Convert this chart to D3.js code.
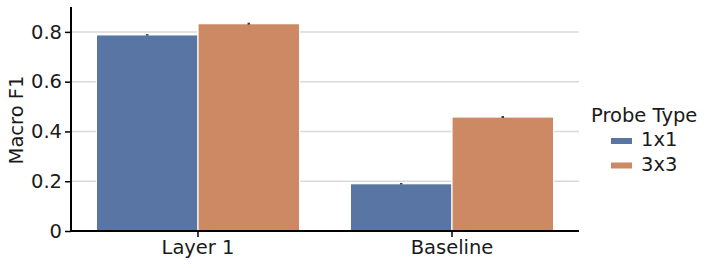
<!DOCTYPE html>
<html>
<head>
<meta charset="utf-8">
<script src="https://cdn.jsdelivr.net/npm/d3@7"></script>
<style>
  body { margin: 0; background: #fff; }
  svg text { font-family: "DejaVu Sans", sans-serif; fill: #1a1a1a; }
</style>
</head>
<body>
<svg id="chart" width="710" height="268"></svg>
<script>
// data
var categories = ["Layer 1", "Baseline"];
var probeTypes = ["1x1", "3x3"];
var means1x1   = [0.788, 0.190];
var means3x3   = [0.833, 0.458];
var err1x1     = [0.003, 0.003];
var err3x3     = [0.004, 0.004];
var yTicks     = [0, 0.2, 0.4, 0.6, 0.8];
var colors     = ["#5975a4", "#cc8963"];

var fontSize = "19.5px";
var margin = {left: 71, right: 131, top: 7, bottom: 37};
var width  = 710 - margin.left - margin.right;
var height = 268 - margin.top - margin.bottom;

var svg = d3.select("#chart");
var g = svg.append("g").attr("transform", "translate(" + margin.left + "," + margin.top + ")");

var x = d3.scaleBand().domain(categories).range([0, width]).paddingInner(0.2).paddingOuter(0.1);
var xInner = d3.scaleBand().domain(probeTypes).range([0, x.bandwidth()]);
var y = d3.scaleLinear().domain([0, 0.9]).range([height, 0]);

// grid lines
g.selectAll(".grid").data(yTicks.slice(1))
  .enter().append("line")
  .attr("x1", 0).attr("x2", width)
  .attr("y1", function(d){ return y(d); })
  .attr("y2", function(d){ return y(d); })
  .attr("stroke", "#d9d9d9").attr("stroke-width", 1.5);

// one row per bar
var rows = [];
categories.forEach(function(c, i){
  rows.push({cat: c, type: "1x1", v: means1x1[i], e: err1x1[i], k: 0});
  rows.push({cat: c, type: "3x3", v: means3x3[i], e: err3x3[i], k: 1});
});

g.selectAll(".bar").data(rows)
  .enter().append("rect")
  .attr("x", function(d){ return x(d.cat) + xInner(d.type); })
  .attr("y", function(d){ return y(d.v); })
  .attr("width", xInner.bandwidth())
  .attr("height", function(d){ return height - y(d.v); })
  .attr("fill", function(d){ return colors[d.k]; })
  .attr("stroke", "#fff").attr("stroke-width", 1.2);

// small error bars
g.selectAll(".err").data(rows)
  .enter().append("line")
  .attr("x1", function(d){ return x(d.cat) + xInner(d.type) + xInner.bandwidth()/2; })
  .attr("x2", function(d){ return x(d.cat) + xInner(d.type) + xInner.bandwidth()/2; })
  .attr("y1", function(d){ return y(d.v - d.e); })
  .attr("y2", function(d){ return y(d.v + d.e); })
  .attr("stroke", "#3d3d3d").attr("stroke-width", 2.5);

// axes
var yAxis = g.append("g")
  .call(d3.axisLeft(y).tickValues(yTicks).tickSize(6).tickPadding(3)
    .tickFormat(function(d){ return d === 0 ? "0" : d3.format(".1f")(d); }));
var xAxis = g.append("g").attr("transform", "translate(0," + height + ")")
  .call(d3.axisBottom(x).tickSize(6).tickPadding(3));

[yAxis, xAxis].forEach(function(ax){
  ax.select(".domain").attr("stroke", "#000").attr("stroke-width", 2);
  ax.selectAll(".tick line").attr("stroke", "#000").attr("stroke-width", 1.5);
  ax.selectAll(".tick text").style("font-size", fontSize).attr("fill", "#1a1a1a");
});
yAxis.select(".domain").attr("d", "M0," + height + "V0");
xAxis.select(".domain").attr("d", "M0,0H" + width);

svg.append("text")
  .attr("transform", "translate(23," + (margin.top + height/2 + 1) + ") rotate(-90)")
  .attr("text-anchor", "middle")
  .style("font-size", fontSize)
  .text("Macro F1");

// legend
var legend = svg.append("g").attr("transform", "translate(591,0)");
legend.append("text").attr("x", 0).attr("y", 122)
  .style("font-size", fontSize).text("Probe Type");
var items = legend.selectAll(".item").data(probeTypes)
  .enter().append("g")
  .attr("transform", function(d, i){ return "translate(0," + (i * 24.5) + ")"; });
items.append("rect")
  .attr("x", 20).attr("y", 138).attr("width", 21).attr("height", 6)
  .attr("fill", function(d, i){ return colors[i]; });
items.append("text")
  .attr("x", 50).attr("y", 146)
  .style("font-size", fontSize)
  .text(function(d){ return d; });
</script>
</body>
</html>
